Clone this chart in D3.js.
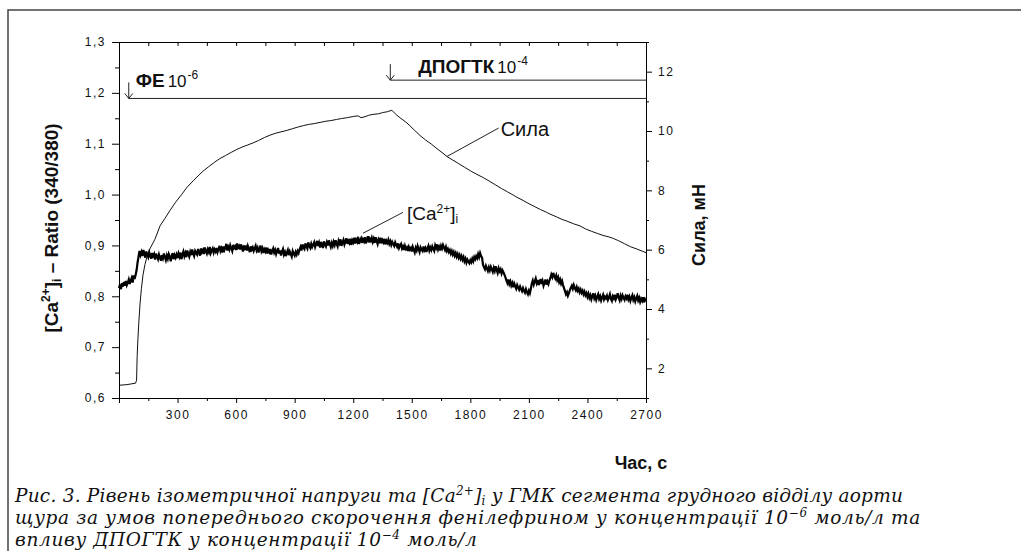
<!DOCTYPE html>
<html>
<head>
<meta charset="utf-8">
<script src="https://cdn.jsdelivr.net/npm/d3@7"></script>
<style>
  body { margin: 0; background: #fff; }
  svg text { font-family: "Liberation Sans", Arial, sans-serif; fill: #111; }
  .caption { font-family: "DejaVu Serif", serif; font-style: italic; }
</style>
</head>
<body>
<div id="chart"></div>
<script>
// [Ca2+]i ratio, one reading every 5 s from 0 to 2700 s
const caStep = 5;
const caValues = [
  0.816,0.823,0.814,0.826,0.819,0.828,0.821,0.830,0.822,0.827,0.833,0.824,0.831,0.836,0.827,0.841,0.834,0.842,0.851,0.866,
  0.878,0.889,0.881,0.887,0.879,0.891,0.884,0.876,0.888,0.882,0.877,0.886,0.880,0.874,0.885,0.879,0.883,0.872,0.884,0.878,
  0.873,0.882,0.876,0.870,0.881,0.875,0.884,0.877,0.871,0.880,0.874,0.883,0.878,0.869,0.879,0.885,0.873,0.881,0.876,0.882,
  0.875,0.884,0.878,0.886,0.873,0.882,0.888,0.879,0.885,0.877,0.890,0.883,0.878,0.887,0.881,0.892,0.884,0.879,0.889,0.885,
  0.882,0.893,0.886,0.880,0.894,0.887,0.891,0.883,0.896,0.889,0.884,0.892,0.887,0.897,0.885,0.890,0.894,0.886,0.892,0.888,
  0.895,0.887,0.893,0.899,0.889,0.894,0.886,0.898,0.891,0.896,0.903,0.890,0.897,0.892,0.900,0.894,0.889,0.901,0.895,0.898,
  0.891,0.904,0.896,0.899,0.892,0.902,0.895,0.888,0.900,0.894,0.897,0.890,0.899,0.893,0.887,0.898,0.892,0.896,0.889,0.894,
  0.899,0.890,0.895,0.886,0.893,0.900,0.889,0.894,0.885,0.892,0.888,0.896,0.884,0.891,0.887,0.893,0.882,0.889,0.894,0.886,
  0.891,0.883,0.889,0.895,0.884,0.890,0.880,0.888,0.893,0.882,0.887,0.879,0.886,0.891,0.881,0.888,0.883,0.878,0.889,0.884,
  0.880,0.887,0.882,0.889,0.885,0.892,0.897,0.890,0.902,0.896,0.893,0.904,0.898,0.894,0.906,0.899,0.895,0.903,0.897,0.901,
  0.906,0.897,0.903,0.909,0.899,0.905,0.896,0.907,0.901,0.895,0.908,0.902,0.898,0.906,0.900,0.910,0.903,0.897,0.905,0.899,
  0.907,0.901,0.910,0.903,0.898,0.909,0.904,0.912,0.899,0.906,0.911,0.902,0.908,0.914,0.903,0.909,0.905,0.913,0.901,0.910,
  0.906,0.915,0.904,0.911,0.907,0.917,0.903,0.910,0.914,0.905,0.912,0.908,0.916,0.904,0.911,0.918,0.906,0.913,0.909,0.915,
  0.907,0.913,0.905,0.916,0.909,0.903,0.912,0.908,0.915,0.904,0.910,0.906,0.913,0.902,0.909,0.905,0.911,0.903,0.908,0.901,
  0.907,0.903,0.899,0.906,0.901,0.897,0.904,0.895,0.900,0.903,0.894,0.898,0.891,0.899,0.893,0.896,0.889,0.897,0.892,0.895,
  0.888,0.897,0.891,0.886,0.895,0.890,0.899,0.893,0.887,0.896,0.892,0.889,0.898,0.891,0.895,0.887,0.894,0.899,0.890,0.896,
  0.891,0.898,0.893,0.889,0.900,0.895,0.902,0.892,0.897,0.890,0.899,0.894,0.901,0.896,0.891,0.897,0.889,0.893,0.887,0.891,
  0.884,0.889,0.882,0.887,0.880,0.885,0.878,0.883,0.876,0.881,0.874,0.879,0.872,0.877,0.869,0.874,0.866,0.872,0.868,0.865,
  0.871,0.867,0.874,0.869,0.877,0.873,0.879,0.875,0.883,0.877,0.885,0.879,0.876,0.862,0.857,0.853,0.860,0.855,0.850,0.857,
  0.851,0.858,0.853,0.848,0.856,0.850,0.859,0.852,0.846,0.855,0.849,0.853,0.845,0.851,0.847,0.842,0.837,0.831,0.826,0.833,
  0.824,0.829,0.821,0.826,0.818,0.825,0.820,0.815,0.822,0.817,0.813,0.819,0.814,0.810,0.816,0.811,0.807,0.814,0.808,0.804,
  0.811,0.806,0.815,0.825,0.831,0.823,0.829,0.835,0.826,0.832,0.822,0.828,0.834,0.824,0.830,0.821,0.827,0.833,0.823,0.829,
  0.824,0.831,0.836,0.843,0.838,0.846,0.839,0.835,0.841,0.832,0.837,0.828,0.833,0.825,0.830,0.822,0.816,0.810,0.804,0.808,
  0.801,0.806,0.812,0.817,0.821,0.815,0.822,0.816,0.812,0.818,0.811,0.815,0.808,0.813,0.807,0.811,0.804,0.809,0.802,0.806,
  0.799,0.805,0.797,0.802,0.794,0.800,0.806,0.796,0.801,0.793,0.799,0.804,0.795,0.800,0.792,0.798,0.803,0.794,0.799,0.796,
  0.801,0.793,0.798,0.804,0.795,0.791,0.800,0.796,0.803,0.794,0.799,0.806,0.797,0.792,0.801,0.795,0.802,0.797,0.793,0.800,
  0.796,0.803,0.794,0.799,0.791,0.797,0.802,0.793,0.798,0.790,0.796,0.801,0.792,0.797,0.789,0.795,0.791,0.798,0.788,0.794,
  0.790
];

// isometric force, mN
const forceTime = [
  0,40,85,90,93,97,102,108,115,123,133,145,160,184,210,235,261,290,320,348,
  380,410,431,460,490,517,545,575,604,635,660,687,715,745,774,800,830,860,890,915,
  944,970,1000,1030,1060,1085,1115,1140,1170,1200,1225,1240,1255,1280,1301,1330,1350,1375,1398,1420,
  1445,1470,1490,1515,1542,1570,1600,1630,1660,1680,1710,1740,1770,1800,1830,1866,1900,1930,1960,1990,
  2020,2038,2070,2100,2130,2160,2190,2208,2240,2270,2300,2330,2362,2390,2420,2450,2480,2510,2532,2560,
  2590,2620,2650,2680,2700
];
const forceValues = [
  1.43,1.45,1.5,1.6,2.4,3.0,3.6,4.2,4.7,5.15,5.5,5.8,6.05,6.35,6.8,7.05,7.32,7.6,7.85,8.1,
  8.32,8.52,8.65,8.8,8.95,9.07,9.17,9.28,9.38,9.47,9.53,9.6,9.68,9.78,9.86,9.92,9.97,10.02,10.08,10.13,
  10.18,10.22,10.25,10.29,10.33,10.35,10.39,10.42,10.45,10.49,10.51,10.45,10.47,10.53,10.56,10.58,10.62,10.65,10.7,10.55,
  10.42,10.3,10.18,10.02,9.85,9.7,9.56,9.4,9.25,9.14,9.02,8.9,8.78,8.66,8.55,8.43,8.3,8.18,8.06,7.95,
  7.84,7.77,7.66,7.55,7.45,7.35,7.26,7.2,7.11,7.02,6.95,6.87,6.8,6.7,6.62,6.55,6.48,6.43,6.38,6.3,
  6.2,6.1,6.03,5.95,5.9
];

const xMajorTicks = [0,300,600,900,1200,1500,1800,2100,2400,2700];
const xMinorTicks = [150,450,750,1050,1350,1650,1950,2250,2550];
const yLeftTicks = [0.6,0.7,0.8,0.9,1.0,1.1,1.2,1.3];
const yLeftMinor = [0.65,0.75,0.85,0.95,1.05,1.15,1.25];
const yRightTicks = [2,4,6,8,10,12];
const yRightMinor = [1,3,5,7,9,11,13];

// drug additions: time (s) and the level of the bar (left axis units)
const drugNames = ["ФЕ", "ДПОГТК"];
const drugPowers = ["-6", "-4"];
const drugTimes = [50, 1390];
const drugLevels = [1.189, 1.225];

// caption pieces: [text, dy shift]
const captionLines = [
  [["Рис. 3. Рівень ізометричної напруги та [Ca", 0], ["2+", -7], ["]", 7], ["i", 3], [" у ГМК сегмента грудного відділу аорти", -3]],
  [["щура за умов попереднього скорочення фенілефрином у концентрації 10", 0], ["−6", -7], [" моль/л та", 7]],
  [["впливу ДПОГТК у концентрації 10", 0], ["−4", -7], [" моль/л", 7]]
];
const captionWidths = [888, 906, 0];

const width = 1021, height = 551;
const svg = d3.select("#chart").append("svg")
  .attr("width", width)
  .attr("height", height);

svg.append("rect").attr("width", width).attr("height", height).attr("fill", "#fff");

// outer frame of the figure
svg.append("path")
  .attr("d", "M8,560V10H1030")
  .attr("fill", "none")
  .attr("stroke", "#444")
  .attr("stroke-width", 1.5);

const x = d3.scaleLinear().domain([0, 2700]).range([119, 646]);
const yL = d3.scaleLinear().domain([0.6, 1.3]).range([398, 42]);
const yR = d3.scaleLinear().domain([1, 13]).range([398, 42]);

const comma = d => d3.format(".1f")(d).replace(".", ",");

function styleAxis(g) {
  g.selectAll("path, line").attr("stroke", "#000").attr("stroke-width", 1);
  g.selectAll("text")
    .attr("font-size", 12)
    .attr("letter-spacing", 1.5)
    .attr("fill", "#222");
}

// left axis
svg.append("g").attr("transform", "translate(119,0)")
  .call(d3.axisLeft(yL).tickValues(yLeftMinor).tickSize(4).tickFormat(""))
  .call(styleAxis);
svg.append("g").attr("transform", "translate(119,0)")
  .call(d3.axisLeft(yL).tickValues(yLeftTicks).tickSize(7).tickSizeOuter(0).tickPadding(6).tickFormat(comma))
  .call(styleAxis);

// right axis
svg.append("g").attr("transform", "translate(646,0)")
  .call(d3.axisRight(yR).tickValues(yRightMinor).tickSize(3).tickFormat(""))
  .call(styleAxis);
svg.append("g").attr("transform", "translate(646,0)")
  .call(d3.axisRight(yR).tickValues(yRightTicks).tickSize(6).tickSizeOuter(0).tickPadding(6))
  .call(styleAxis);

// bottom axis
svg.append("g").attr("transform", "translate(0,398)")
  .call(d3.axisBottom(x).tickValues(xMinorTicks).tickSize(3).tickFormat(""))
  .call(styleAxis);
svg.append("g").attr("transform", "translate(0,398)")
  .call(d3.axisBottom(x).tickValues(xMajorTicks).tickSize(5).tickSizeOuter(0).tickPadding(7)
    .tickFormat(d => d === 0 ? "" : d))
  .call(styleAxis);

// top axis, ticks inward
svg.append("g").attr("transform", "translate(0,42)")
  .call(d3.axisTop(x).tickValues(xMajorTicks.concat(xMinorTicks)).tickSizeInner(-4).tickSizeOuter(0).tickFormat(""))
  .call(styleAxis);

// force curve
const forceLine = d3.line()
  .x((d, i) => x(forceTime[i]))
  .y(d => yR(d));
svg.append("path")
  .datum(forceValues)
  .attr("d", forceLine)
  .attr("fill", "none")
  .attr("stroke", "#111")
  .attr("stroke-width", 1);

// calcium ratio
const caLine = d3.line()
  .x((d, i) => x(i * caStep))
  .y(d => yL(d));
svg.append("path")
  .datum(caValues)
  .attr("d", caLine)
  .attr("fill", "none")
  .attr("stroke", "#000")
  .attr("stroke-width", 2.2)
  .attr("stroke-linejoin", "miter");

// drug bars with arrows
drugTimes.forEach((t, i) => {
  const px = x(t), py = yL(drugLevels[i]);
  svg.append("path")
    .attr("d", `M${px},${py}H${x(2700)}M${px},${py - 16}V${py}M${px - 4},${py - 5}L${px},${py}L${px + 4},${py - 5}`)
    .attr("fill", "none")
    .attr("stroke", "#222")
    .attr("stroke-width", 1);
  const txt = svg.append("text")
    .attr("x", px + 7 + (i === 1 ? 21 : 0))
    .attr("y", py - 11 + (i === 1 ? 4 : 0));
  txt.append("tspan").attr("font-weight", "bold").attr("font-size", 19).text(drugNames[i]);
  txt.append("tspan").attr("font-size", 17).attr("dx", 3).text("10");
  txt.append("tspan").attr("font-size", 12).attr("dx", 1).attr("dy", -8).text(drugPowers[i]);
});

// curve labels with leader lines
const silaFrom = [1680, 9.14], silaTo = [1945, 10.1];
svg.append("line")
  .attr("x1", x(silaFrom[0])).attr("y1", yR(silaFrom[1]))
  .attr("x2", x(silaTo[0])).attr("y2", yR(silaTo[1]))
  .attr("stroke", "#222");
svg.append("text")
  .attr("x", x(silaTo[0]) + 2).attr("y", yR(silaTo[1]) + 8)
  .attr("font-size", 20)
  .text("Сила");

const caFrom = [1250, 0.924], caTo = [1455, 0.965];
svg.append("line")
  .attr("x1", x(caFrom[0])).attr("y1", yL(caFrom[1]))
  .attr("x2", x(caTo[0])).attr("y2", yL(caTo[1]))
  .attr("stroke", "#222");
const caLabel = svg.append("text")
  .attr("x", x(caTo[0]) + 4).attr("y", yL(caTo[1]) + 8)
  .attr("font-size", 19);
caLabel.append("tspan").text("[Ca");
caLabel.append("tspan").attr("font-size", 12).attr("dy", -7).text("2+");
caLabel.append("tspan").attr("dy", 7).text("]");
caLabel.append("tspan").attr("font-size", 12).attr("dy", 3).text("i");

// axis titles
const leftTitle = svg.append("text")
  .attr("transform", "translate(58,228) rotate(-90)")
  .attr("text-anchor", "middle")
  .attr("font-weight", "bold")
  .attr("font-size", 19);
leftTitle.append("tspan").text("[Ca");
leftTitle.append("tspan").attr("font-size", 12).attr("dy", -8).text("2+");
leftTitle.append("tspan").attr("dy", 8).text("]");
leftTitle.append("tspan").attr("font-size", 12).attr("dy", 3).text("i");
leftTitle.append("tspan").attr("dy", -3).text(" – Ratio (340/380)");

svg.append("text")
  .attr("transform", "translate(705,225) rotate(-90)")
  .attr("text-anchor", "middle")
  .attr("font-weight", "bold")
  .attr("font-size", 18)
  .text("Сила, мН");

svg.append("text")
  .attr("x", 641).attr("y", 469)
  .attr("text-anchor", "middle")
  .attr("font-weight", "bold")
  .attr("font-size", 18)
  .text("Час, с");

// caption, letter spacing fitted to the reference line widths
let spacing = 0;
captionLines.forEach((parts, i) => {
  const t = svg.append("text")
    .attr("class", "caption")
    .attr("x", 15)
    .attr("y", 502 + i * 22)
    .attr("font-size", 18.5);
  parts.forEach(([s, dy]) => {
    const sp = t.append("tspan").text(s);
    if (dy) sp.attr("dy", dy);
    if (dy === -7 || dy === 3) sp.attr("font-size", 12);
  });
  if (captionWidths[i]) {
    const w = t.node().getComputedTextLength();
    const n = parts.reduce((a, p) => a + p[0].length, 0);
    spacing = (captionWidths[i] - w) / n;
  }
  t.attr("letter-spacing", spacing.toFixed(2));
});
</script>
</body>
</html>
